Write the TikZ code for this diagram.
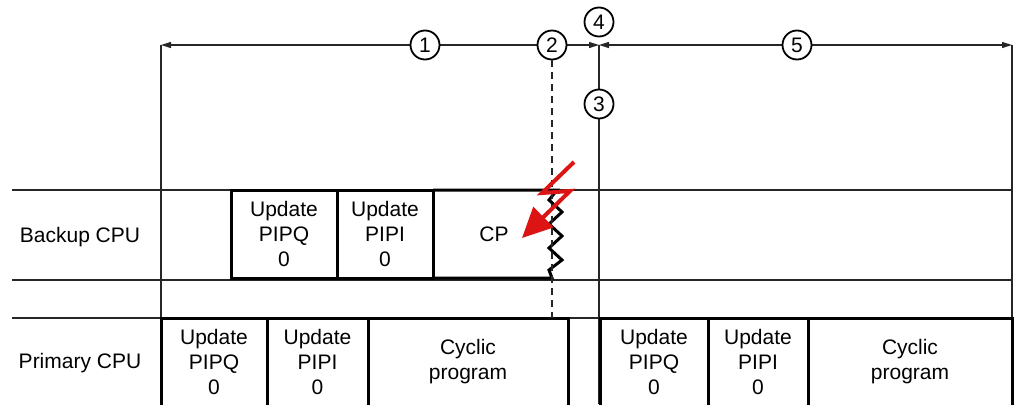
\documentclass[tikz,border=0pt]{standalone}
\usepackage{fontspec}
\setmainfont{Liberation Sans}
\usetikzlibrary{arrows.meta}

\definecolor{flashred}{RGB}{220,20,20}

\tikzset{
  thin line/.style={line width=1.3pt, black!85},
  cell/.style={draw, line width=3pt, inner sep=0pt, outer sep=0pt, align=center,
    font=\fontsize{21}{25}\selectfont},
  num/.style={draw, circle, line width=1.8pt, fill=white, inner sep=0pt,
    minimum size=29pt, font=\fontsize{21}{21}\selectfont},
  dim/.style={thin line, {Triangle[length=10pt,width=6pt]}-{Triangle[length=10pt,width=6pt]}},
}

\begin{document}
\begin{tikzpicture}[x=1pt, y=-1pt]
  \clip (0,0) rectangle (1014,404);

  % Row lines
  \coordinate (r1l) at (12,190);  \coordinate (r1r) at (1012,190);
  \coordinate (r2l) at (12,280);  \coordinate (r2r) at (1012,280);
  \coordinate (r3l) at (12,318);  \coordinate (r3r) at (1012,318);
  \draw[thin line] (r1l) -- (r1r);
  \draw[thin line] (r2l) -- (r2r);
  \draw[thin line] (r3l) -- (r3r);

  % Time marks
  \coordinate (tl) at (161,45);
  \coordinate (tm) at (599,45);
  \coordinate (tr) at (1012,45);
  \coordinate (bl) at (161,404);
  \coordinate (bm) at (599,404);
  \coordinate (br) at (1012,404);
  \draw[thin line] (tl) -- (bl);
  \draw[thin line] (tm) -- (bm);
  \draw[thin line] (tr) -- (br);
  \draw[dim] (tl) -- (tm);
  \draw[dim] (tm) -- (tr);

  % Row labels
  \node[font=\fontsize{21}{25}\selectfont] (lbackup) at (80,237) {Backup CPU};
  \node[font=\fontsize{21}{25}\selectfont] (lprimary) at (80,363) {Primary CPU};

  % Backup CPU
  \node[cell, minimum width=106pt, minimum height=88pt] (bq) at (284,234) {Update\\PIPQ\\0};
  \node[cell, minimum width=96pt, minimum height=88pt] (bi) at (385,234) {Update\\PIPI\\0};
  \node[font=\fontsize{21}{25}\selectfont] (bcp) at (494,234) {CP};
  \draw[line width=3pt, line join=miter] (bi.north east) -- (557,190) -- (549,200) -- (562,212)
    -- (549,224) -- (562,236) -- (549,248) -- (562,260) -- (549,270)
    -- (552,278) -- (bi.south east);

  % Primary CPU
  \node[cell, minimum width=106pt, minimum height=88pt] (pq1) at (214,362) {Update\\PIPQ\\0};
  \node[cell, minimum width=101pt, minimum height=88pt] (pi1) at (317.5,362) {Update\\PIPI\\0};
  \node[cell, minimum width=200pt, minimum height=88pt] (pc1) at (468,362) {Cyclic\\program};
  \node[cell, minimum width=108pt, minimum height=88pt] (pq2) at (654,362) {Update\\PIPQ\\0};
  \node[cell, minimum width=100pt, minimum height=88pt] (pi2) at (758,362) {Update\\PIPI\\0};
  \node[cell, minimum width=204pt, minimum height=88pt] (pc2) at (910,362) {Cyclic\\program};

  % Failure
  \node[num] (n2) at (552,45) {2};
  \coordinate (fail) at (552,318);
  \draw[thin line, dash pattern=on 7pt off 5pt] (n2.south) -- (fail);
  \draw[flashred, line width=4pt, -{Triangle[length=30pt,width=28pt]}]
    (574,162) -- (542,193) -- (570,191) -- (522,238);

  % Markers
  \node[num] (n1) at (425,45) {1};
  \node[num] (n3) at (599,104) {3};
  \node[num] (n4) at (599,22) {4};
  \node[num] (n5) at (797,45) {5};
\end{tikzpicture}
\end{document}
